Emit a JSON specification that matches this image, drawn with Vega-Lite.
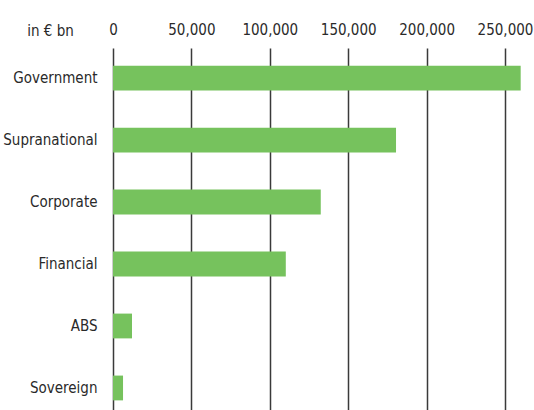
{
  "$schema": "https://vega.github.io/schema/vega-lite/v6.json",
  "autosize": {"type": "none"},
  "padding": {"left": 113, "top": 48, "right": 29, "bottom": 0},
  "width": 392,
  "height": 362,
  "background": "white",
  "config": {
    "font": "DejaVu Sans Condensed",
    "view": {"stroke": null}
  },
  "data": {
    "values": [
      {"sector": "Government", "value": 260000},
      {"sector": "Supranational", "value": 180500},
      {"sector": "Corporate", "value": 132500},
      {"sector": "Financial", "value": 110200},
      {"sector": "ABS", "value": 12100},
      {"sector": "Sovereign", "value": 6400}
    ]
  },
  "mark": {"type": "bar", "color": "#76C25D"},
  "encoding": {
    "y": {
      "field": "sector",
      "type": "nominal",
      "sort": null,
      "scale": {"paddingInner": 0.6, "paddingOuter": 0.22, "align": 0.647},
      "axis": {
        "title": "in € bn",
        "titleAngle": 0,
        "titleAlign": "center",
        "titleBaseline": "alphabetic",
        "titleX": -63,
        "titleY": -13,
        "titleFont": "DejaVu Sans Condensed",
        "titleFontSize": 15,
        "titleFontWeight": "normal",
        "titleColor": "#2a2a2a",
        "domain": false,
        "ticks": false,
        "labelPadding": 16,
        "labelFontSize": 15,
        "labelColor": "#2a2a2a",
        "labelFont": "DejaVu Sans Condensed"
      }
    },
    "x": {
      "field": "value",
      "type": "quantitative",
      "scale": {"domain": [0, 250000], "nice": false},
      "axis": {
        "orient": "top",
        "title": null,
        "values": [0, 50000, 100000, 150000, 200000, 250000],
        "format": ",d",
        "domain": false,
        "ticks": false,
        "labelPadding": 14,
        "labelBaseline": "alphabetic",
        "labelFontSize": 15,
        "labelColor": "#2a2a2a",
        "labelFont": "DejaVu Sans Condensed",
        "labelFlush": false,
        "grid": true,
        "gridColor": "#3a3a3a",
        "gridWidth": 1.5,
        "gridOpacity": 1
      }
    }
  }
}
